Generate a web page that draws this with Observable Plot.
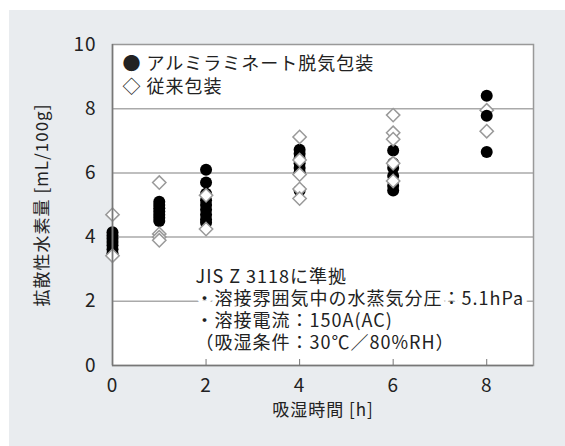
<!DOCTYPE html>
<html><head><meta charset="utf-8">
<script src="https://cdn.jsdelivr.net/npm/d3@7"></script>
<script src="https://cdn.jsdelivr.net/npm/@observablehq/plot@0.6"></script>
<style>
html,body{margin:0;padding:0;background:#fff;}
</style></head><body>
<div id="chart"></div>
<script>
const xTicks = [0, 2, 4, 6, 8];
const yTicks = [0, 2, 4, 6, 8, 10];
const gridY = [2, 4, 6, 8];
// [hour, hydrogen mL/100g]
const aluminumPoints = [
  [0, 4.15], [0, 4.05], [0, 3.95], [0, 3.85], [0, 3.75], [0, 3.62], [0, 3.5],
  [1, 5.1], [1, 5.0], [1, 4.9], [1, 4.8], [1, 4.7], [1, 4.6], [1, 4.5],
  [2, 6.1], [2, 5.7], [2, 5.35], [2, 5.15], [2, 5.0], [2, 4.85], [2, 4.7], [2, 4.55], [2, 4.45],
  [4, 6.72], [4, 6.6], [4, 6.45], [4, 6.3], [4, 6.15], [4, 6.02], [4, 5.45],
  [6, 6.7], [6, 6.3], [6, 6.15], [6, 5.9], [6, 5.6], [6, 5.45],
  [8, 8.4], [8, 7.78], [8, 6.65]
];
const conventionalPoints = [
  [0, 4.7], [0, 3.42],
  [1, 5.7], [1, 4.1], [1, 4.0], [1, 3.9],
  [2, 4.25], [2, 5.3],
  [4, 7.12], [4, 6.4], [4, 5.95], [4, 5.5], [4, 5.2],
  [6, 7.8], [6, 7.25], [6, 7.05], [6, 6.3], [6, 5.75],
  [8, 7.95], [8, 7.3]
];
const legendLines = ["● アルミラミネート脱気包装", "◇ 従来包装"];
const noteLines = ["JIS Z 3118に準拠", "・溶接雰囲気中の水蒸気分圧：5.1hPa", "・溶接電流：150A(AC)", "（吸湿条件：30℃／80%RH）"];
const xLabel = "吸湿時間 [h]";
const yLabel = "拡散性水素量 [mL/100g]";

const chart = Plot.plot({
  width: 565,
  height: 446,
  marginLeft: 112,
  marginRight: 32,
  marginTop: 44,
  marginBottom: 81,
  style: {background: "white", fontFamily: "'Noto Sans CJK JP', sans-serif", fontSize: "18px", color: "#222", letterSpacing: "1px"},
  x: {domain: [0, 9]},
  y: {domain: [0, 10]},
  marks: [
    // outer panel (soft shadow + light grey card)
    Plot.frame({fill: "#f1f2f4", stroke: null, insetLeft: -102, insetTop: -33, insetRight: -40, insetBottom: -90}),
    Plot.frame({fill: "#e9ecef", stroke: null, insetLeft: -104, insetTop: -35, insetRight: -40, insetBottom: -90, dx: 0.5, dy: 0.5, opacity: 1}),
    Plot.frame({fill: "white", stroke: null}),
    Plot.ruleY(gridY, {stroke: "#aaa", strokeWidth: 1.5}),
    Plot.dot(conventionalPoints, {filter: d => d[0] === 8, x: d => d[0], y: d => d[1], symbol: "diamond2", r: 6, fill: "white", stroke: "#999", strokeWidth: 1.5}),
    Plot.dot(aluminumPoints, {x: d => d[0], y: d => d[1], symbol: "circle", r: 6, fill: "black", stroke: null}),
    Plot.dot(conventionalPoints, {filter: d => d[0] !== 8, x: d => d[0], y: d => d[1], symbol: "diamond2", r: 6, fill: "white", stroke: "#999", strokeWidth: 1.5}),
    Plot.frame({stroke: "#999", strokeWidth: 1.5}),
    Plot.ruleX([0], {stroke: "#777", strokeWidth: 1.5}),
    Plot.ruleY([0], {stroke: "#777", strokeWidth: 1.5}),
    Plot.axisY({ticks: yTicks, tickSize: 0, tickPadding: 16, label: null, fontSize: 19, fill: "#222"}),
    Plot.axisX({ticks: xTicks, tickSize: -6, tickPadding: 19, label: null, fontSize: 19, fill: "#222", stroke: "#777"}),
    Plot.text([legendLines.join("\n")], {text: d => d, frameAnchor: "top-left", textAnchor: "start", lineAnchor: "middle", lineHeight: 1.28, dx: 10, dy: 30, fontSize: 18, fill: "#222"}),
    Plot.text([noteLines.join("\n")], {text: d => d, frameAnchor: "left", textAnchor: "start", lineAnchor: "middle", lineHeight: 1.22, dx: 83, dy: 104, fontSize: 18, fill: "#222", stroke: "white", strokeWidth: 10}),
    Plot.text([xLabel], {text: d => d, frameAnchor: "bottom", textAnchor: "middle", lineAnchor: "middle", dy: 45, fontSize: 17, fill: "#222"}),
    Plot.text([yLabel], {text: d => d, frameAnchor: "left", textAnchor: "middle", lineAnchor: "middle", rotate: -90, dx: -70, fontSize: 17, fill: "#222"})
  ]
});
document.getElementById("chart").appendChild(chart);
</script>
</body></html>
